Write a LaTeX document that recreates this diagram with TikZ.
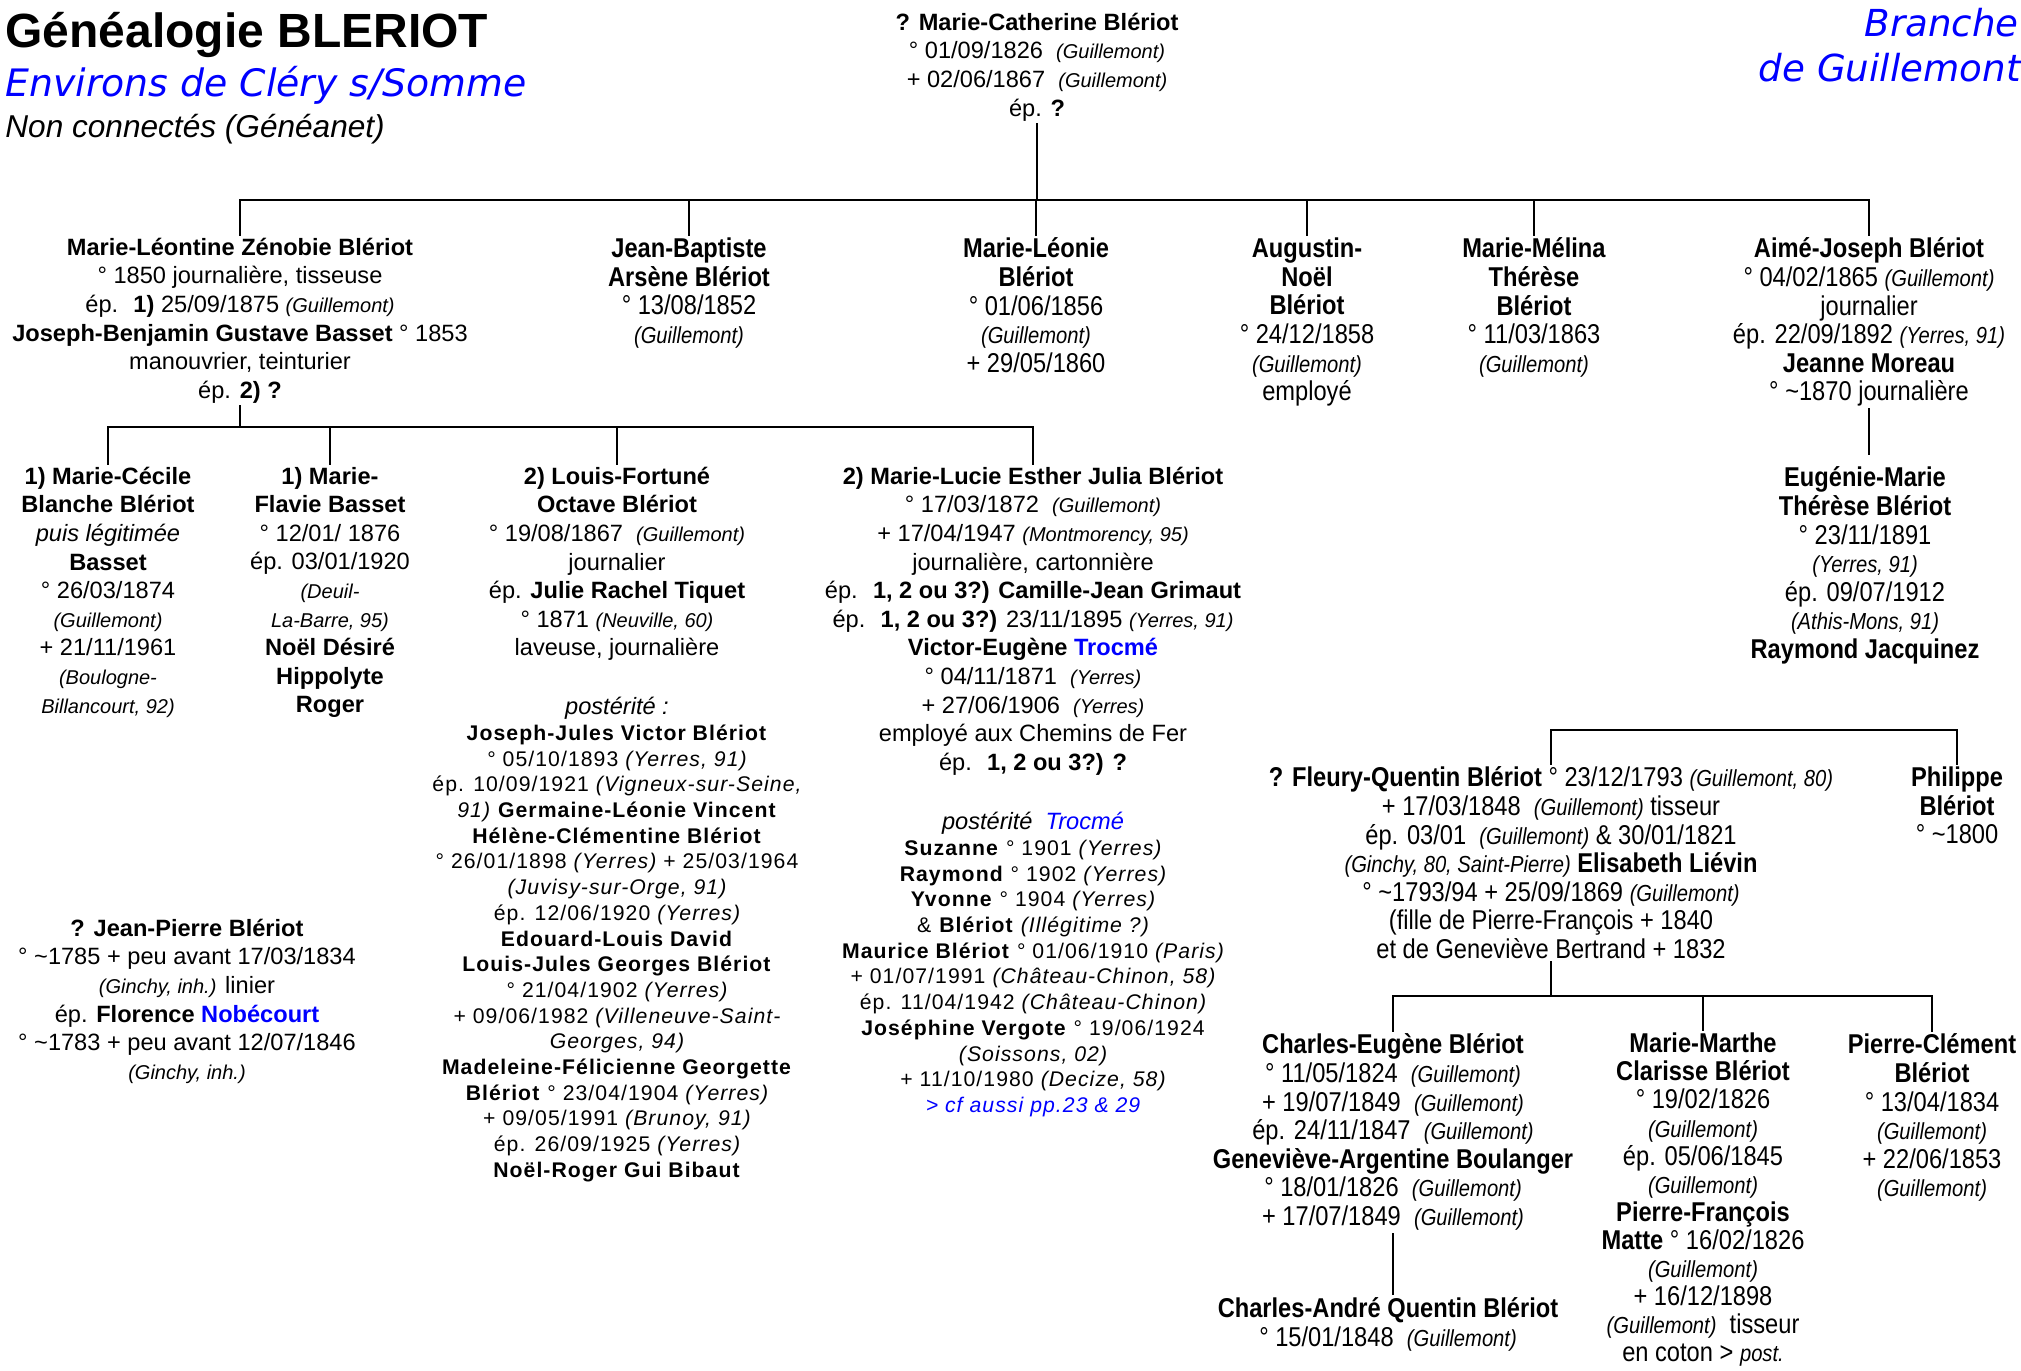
\documentclass[tikz,border=0pt]{standalone}
\usepackage{fontspec}
\setmainfont{Liberation Sans}
\newfontfamily\narrowfont[FakeStretch=0.87]{Liberation Sans}
\newfontfamily\spacedfont[LetterSpace=5]{Liberation Sans}
\newfontfamily\titlefont{DejaVu Sans}
\definecolor{bleu}{RGB}{0,0,255}
\newcommand\plcsize{\fontsize{10}{14.3}\selectfont}
\newcommand\plc[1]{{\plcsize\itshape #1}}
\newcommand\vers{\textasciitilde}

\begin{document}
\begin{tikzpicture}[x=0.5pt,y=-0.5pt,
    pers/.style={align=center, inner sep=0pt, outer sep=1.5pt,
      font=\fontsize{11.8}{14.3}\selectfont},
    etroit/.style={pers, font=\narrowfont\fontsize{13.6}{14.3}\selectfont,
      execute at begin node={\def\plcsize{\fontsize{11.6}{14.3}\selectfont}}},
    poster/.style={align=center, inner sep=0pt,
      font=\spacedfont\fontsize{10.6}{12.85}\selectfont,
      execute at begin node={\def\plcsize{\fontsize{10.6}{12.85}\selectfont}}},
    titre/.style={inner sep=0pt, anchor=base west},
    lien/.style={line width=1.3pt, line cap=rect},
    lienfin/.style={line width=0.8pt}]
  \useasboundingbox (0,0) rectangle (2021,1370);

  % en-tete
  \node[titre, font=\bfseries\fontsize{24}{28}\selectfont] (titre) at (5,48) {Généalogie BLERIOT};
  \node[titre, font=\titlefont\itshape\fontsize{18.9}{22}\selectfont, text=bleu] (envir) at (5,97) {Environs de Cléry s/Somme};
  \node[titre, font=\itshape\fontsize{15.8}{18}\selectfont] (noncon) at (5,137) {Non connectés (Généanet)};
  \node[titre, anchor=base east, font=\titlefont\itshape\fontsize{18.6}{22}\selectfont, text=bleu] (branche) at (2019,37) {Branche};
  \node[titre, anchor=base east, font=\titlefont\itshape\fontsize{18.6}{22}\selectfont, text=bleu] (deguil) at (2021,82) {de Guillemont};

  \coordinate (b0) at (0,200);
  \coordinate (b1) at (0,427);
  \coordinate (b2) at (0,730);
  \coordinate (b3) at (0,996);

  % souche
  \node[pers, anchor=north] (mcath) at (1037,10) {\textbf{? Marie-Catherine Blériot}\\
    ° 01/09/1826 \ \plc{(Guillemont)}\\
    + 02/06/1867 \ \plc{(Guillemont)}\\
    ép. \textbf{?}};

  % enfants
  \node[pers, anchor=north] (leontine) at (240,235) {\textbf{Marie-Léontine Zénobie Blériot}\\
    ° 1850 journalière, tisseuse\\
    ép. \ \textbf{1)} 25/09/1875 \plc{(Guillemont)}\\
    \textbf{Joseph-Benjamin Gustave Basset} ° 1853\\
    manouvrier, teinturier\\
    ép. \textbf{2) ?}};
  \node[etroit, anchor=north] (jbapt) at (689,235) {\textbf{Jean-Baptiste}\\
    \textbf{Arsène Blériot}\\
    ° 13/08/1852\\
    \plc{(Guillemont)}};
  \node[etroit, anchor=north] (leonie) at (1036,235) {\textbf{Marie-Léonie}\\
    \textbf{Blériot}\\
    ° 01/06/1856\\
    \plc{(Guillemont)}\\
    + 29/05/1860};
  \node[etroit, anchor=north] (augustin) at (1307,235) {\textbf{Augustin-}\\
    \textbf{Noël}\\
    \textbf{Blériot}\\
    ° 24/12/1858\\
    \plc{(Guillemont)}\\
    employé};
  \node[etroit, anchor=north] (melina) at (1534,235) {\textbf{Marie-Mélina}\\
    \textbf{Thérèse}\\
    \textbf{Blériot}\\
    ° 11/03/1863\\
    \plc{(Guillemont)}};
  \node[etroit, anchor=north] (aime) at (1869,235) {\textbf{Aimé-Joseph Blériot}\\
    ° 04/02/1865 \plc{(Guillemont)}\\
    journalier\\
    ép. 22/09/1892 \plc{(Yerres, 91)}\\
    \textbf{Jeanne Moreau}\\
    ° \vers1870 journalière};

  % petits-enfants
  \node[pers, anchor=north] (cecile) at (108,464) {\textbf{1) Marie-Cécile}\\
    \textbf{Blanche Blériot}\\
    \textit{puis légitimée}\\
    \textbf{Basset}\\
    ° 26/03/1874\\
    \plc{(Guillemont)}\\
    + 21/11/1961\\
    \plc{(Boulogne-}\\
    \plc{Billancourt, 92)}};
  \node[pers, anchor=north] (flavie) at (330,464) {\textbf{1) Marie-}\\
    \textbf{Flavie Basset}\\
    ° 12/01/ 1876\\
    ép. 03/01/1920\\
    \plc{(Deuil-}\\
    \plc{La-Barre, 95)}\\
    \textbf{Noël Désiré}\\
    \textbf{Hippolyte}\\
    \textbf{Roger}};
  \node[pers, anchor=north] (louis) at (617,464) {\textbf{2) Louis-Fortuné}\\
    \textbf{Octave Blériot}\\
    ° 19/08/1867 \ \plc{(Guillemont)}\\
    journalier\\
    ép. \textbf{Julie Rachel Tiquet}\\
    ° 1871 \plc{(Neuville, 60)}\\
    laveuse, journalière};
  \node[pers, anchor=north] (lucie) at (1033,464) {\textbf{2) Marie-Lucie Esther Julia Blériot}\\
    ° 17/03/1872 \ \plc{(Guillemont)}\\
    + 17/04/1947 \plc{(Montmorency, 95)}\\
    journalière, cartonnière\\
    ép. \ \textbf{1, 2 ou 3?) Camille-Jean Grimaut}\\
    ép. \ \textbf{1, 2 ou 3?)} 23/11/1895 \plc{(Yerres, 91)}\\
    \textbf{Victor-Eugène \textcolor{bleu}{Trocmé}}\\
    ° 04/11/1871 \ \plc{(Yerres)}\\
    + 27/06/1906 \ \plc{(Yerres)}\\
    employé aux Chemins de Fer\\
    ép. \ \textbf{1, 2 ou 3?) ?}};
  \node[etroit, anchor=north] (eugenie) at (1865,464) {\textbf{Eugénie-Marie}\\
    \textbf{Thérèse Blériot}\\
    ° 23/11/1891\\
    \plc{(Yerres, 91)}\\
    ép. 09/07/1912\\
    \plc{(Athis-Mons, 91)}\\
    \textbf{Raymond Jacquinez}};

  % posterites
  \node[poster, anchor=north] (lfpost) at (617,697) {{\normalfont\fontsize{11.8}{12.85}\selectfont\itshape postérité :}\\
    \textbf{Joseph-Jules Victor Blériot}\\
    ° 05/10/1893 \plc{(Yerres, 91)}\\
    ép. 10/09/1921 \plc{(Vigneux-sur-Seine,}\\
    \plc{91)} \textbf{Germaine-Léonie Vincent}\\
    \textbf{Hélène-Clémentine Blériot}\\
    ° 26/01/1898 \plc{(Yerres)} + 25/03/1964\\
    \plc{(Juvisy-sur-Orge, 91)}\\
    ép. 12/06/1920 \plc{(Yerres)}\\
    \textbf{Edouard-Louis David}\\
    \textbf{Louis-Jules Georges Blériot}\\
    ° 21/04/1902 \plc{(Yerres)}\\
    + 09/06/1982 \plc{(Villeneuve-Saint-}\\
    \plc{Georges, 94)}\\
    \textbf{Madeleine-Félicienne Georgette}\\
    \textbf{Blériot} ° 23/04/1904 \plc{(Yerres)}\\
    + 09/05/1991 \plc{(Brunoy, 91)}\\
    ép. 26/09/1925 \plc{(Yerres)}\\
    \textbf{Noël-Roger Gui Bibaut}};
  \node[poster, anchor=north] (mlpost) at (1033,812) {{\normalfont\fontsize{11.8}{12.85}\selectfont\itshape postérité \ \textcolor{bleu}{Trocmé}}\\
    \textbf{Suzanne} ° 1901 \plc{(Yerres)}\\
    \textbf{Raymond} ° 1902 \plc{(Yerres)}\\
    \textbf{Yvonne} ° 1904 \plc{(Yerres)}\\
    \& \textbf{Blériot} \plc{(Illégitime ?)}\\
    \textbf{Maurice Blériot} ° 01/06/1910 \plc{(Paris)}\\
    + 01/07/1991 \plc{(Château-Chinon, 58)}\\
    ép. 11/04/1942 \plc{(Château-Chinon)}\\
    \textbf{Joséphine Vergote} ° 19/06/1924\\
    \plc{(Soissons, 02)}\\
    + 11/10/1980 \plc{(Decize, 58)}\\
    \textcolor{bleu}{\plc{> cf aussi pp.23 \& 29}}};

  % non connectes
  \node[pers, anchor=north] (jpierre) at (187,916) {\textbf{? Jean-Pierre Blériot}\\
    ° \vers1785 + peu avant 17/03/1834\\
    \plc{(Ginchy, inh.)} linier\\
    ép. \textbf{Florence \textcolor{bleu}{Nobécourt}}\\
    ° \vers1783 + peu avant 12/07/1846\\
    \plc{(Ginchy, inh.)}};

  \node[etroit, anchor=north] (fleury) at (1551,764) {\textbf{? Fleury-Quentin Blériot} ° 23/12/1793 \plc{(Guillemont, 80)}\\
    + 17/03/1848 \ \plc{(Guillemont)} tisseur\\
    ép. 03/01 \ \plc{(Guillemont)} \& 30/01/1821\\
    \plc{(Ginchy, 80, Saint-Pierre)} \textbf{Elisabeth Liévin}\\
    ° \vers1793/94 + 25/09/1869 \plc{(Guillemont)}\\
    (fille de Pierre-François + 1840\\
    et de Geneviève Bertrand + 1832};
  \node[etroit, anchor=north] (philippe) at (1957,764) {\textbf{Philippe}\\
    \textbf{Blériot}\\
    ° \vers1800};

  \node[etroit, anchor=north] (ceug) at (1393,1031) {\textbf{Charles-Eugène Blériot}\\
    ° 11/05/1824 \ \plc{(Guillemont)}\\
    + 19/07/1849 \ \plc{(Guillemont)}\\
    ép. 24/11/1847 \ \plc{(Guillemont)}\\
    \textbf{Geneviève-Argentine Boulanger}\\
    ° 18/01/1826 \ \plc{(Guillemont)}\\
    + 17/07/1849 \ \plc{(Guillemont)}};
  \node[etroit, anchor=north, font=\narrowfont\fontsize{13.6}{14.05}\selectfont] (marthe) at (1703,1030) {\textbf{Marie-Marthe}\\
    \textbf{Clarisse Blériot}\\
    ° 19/02/1826\\
    \plc{(Guillemont)}\\
    ép. 05/06/1845\\
    \plc{(Guillemont)}\\
    \textbf{Pierre-François}\\
    \textbf{Matte} ° 16/02/1826\\
    \plc{(Guillemont)}\\
    + 16/12/1898\\
    \plc{(Guillemont)} \ tisseur\\
    en coton > \plc{post.}};
  \node[etroit, anchor=north] (pclem) at (1932,1031) {\textbf{Pierre-Clément}\\
    \textbf{Blériot}\\
    ° 13/04/1834\\
    \plc{(Guillemont)}\\
    + 22/06/1853\\
    \plc{(Guillemont)}};
  \node[etroit, anchor=north] (candre) at (1388,1295) {\textbf{Charles-André Quentin Blériot}\\
    ° 15/01/1848 \ \plc{(Guillemont)}};

  % liens
  \draw[lien] (mcath.south) -- (mcath.south |- b0);
  \draw[lien] (leontine.north |- b0) -- (aime.north |- b0);
  \foreach \n in {leontine,jbapt,leonie,augustin,melina,aime}
    \draw[lien] (\n.north) -- (\n.north |- b0);

  \draw[lien] (leontine.south) -- (leontine.south |- b1);
  \draw[lien] (cecile.north |- b1) -- (lucie.north |- b1);
  \foreach \n in {cecile,flavie,louis,lucie}
    \draw[lien] (\n.north) -- (\n.north |- b1);

  \draw[lien] (aime.south) -- ([yshift=5pt]aime.south |- eugenie.north);

  \draw[lien] (fleury.north) -- (fleury.north |- b2) -- (philippe.north |- b2) -- (philippe.north);
  \draw[lien] (fleury.south) -- (fleury.south |- b3);
  \draw[lien] (ceug.north |- b3) -- (pclem.north |- b3);
  \foreach \n in {ceug,marthe,pclem}
    \draw[lien] (\n.north) -- (\n.north |- b3);
  \draw[lienfin] (ceug.south) -- (ceug.south |- candre.north);
\end{tikzpicture}
\end{document}
